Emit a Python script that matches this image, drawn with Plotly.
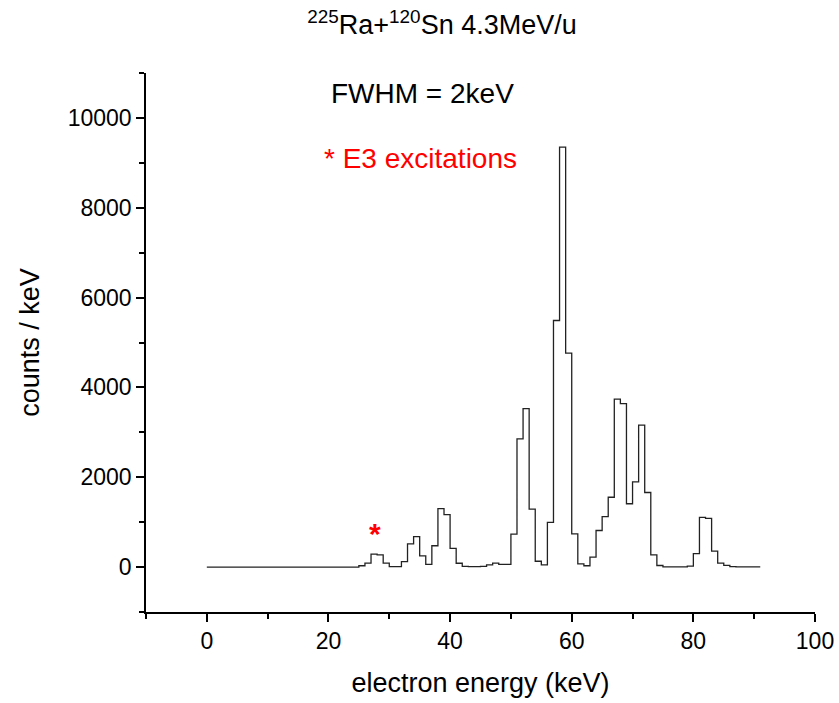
import plotly.graph_objects as go

# Histogram bins: lower edge of each 1 keV bin (keV)
bin_starts = list(range(0, 91))
bin_width = 1
# counts / keV per bin
counts = (
    [0] * 25 +
    [30, 90, 290, 270, 90, 10, 10, 120, 515, 680,            # 25-34
     250, 60, 475, 1300, 1170, 415, 85, 15, 10, 10,          # 35-44
     15, 50, 90, 60, 60, 735, 2855, 3530, 1290, 130,         # 45-54
     50, 995, 5490, 9350, 4765, 740, 70, 30, 220, 815,       # 55-64
     1125, 1555, 3740, 3640, 1410, 1895, 3160, 1660, 270, 35,# 65-74
     5, 5, 5, 5, 20, 300, 1105, 1085, 355, 88,               # 75-84
     38, 12, 5, 5, 5, 5]                                     # 85-90
)

x_ticks = [0, 20, 40, 60, 80, 100]
y_ticks = [0, 2000, 4000, 6000, 8000, 10000]
y_tick_labels = ["0", "2000", "4000", "6000", "8000", "10000"]

title_text = "<sup>225</sup>Ra+<sup>120</sup>Sn 4.3MeV/u"
fwhm_text = "FWHM = 2keV"
e3_text = "* E3 excitations"
e3_marker_pos = (27.6, 757)

edges = bin_starts + [bin_starts[-1] + bin_width]
yvals = counts + [counts[-1]]

FONT = "Arial, Liberation Sans, sans-serif"

fig = go.Figure()
fig.add_trace(go.Scatter(
    x=edges, y=yvals, mode="lines", line_shape="hv",
    line=dict(color="#222222", width=1.3), showlegend=False, hoverinfo="skip"
))

axis_common = dict(
    showline=True, linecolor="black", linewidth=1.5, mirror=False,
    ticks="outside", ticklen=8, tickwidth=1.5, tickcolor="black",
    showgrid=False, zeroline=False, automargin=False,
    tickfont=dict(family=FONT, size=23, color="black"),
)

fig.update_layout(
    width=839, height=703,
    margin=dict(l=146, r=24, t=73, b=91),
    paper_bgcolor="white", plot_bgcolor="white",
    font=dict(family=FONT, color="black"),
    title=dict(text=title_text, x=442 / 839, xref="container", xanchor="center",
               y=1 - 25 / 703, yref="container", yanchor="middle",
               font=dict(family=FONT, size=27, color="black")),
    xaxis=dict(range=[-10, 100], tickvals=x_ticks,
               minor=dict(dtick=10, tick0=0, ticks="outside", ticklen=5, tickwidth=1.5, tickcolor="black"),
               title=dict(text="electron energy (keV)", font=dict(family=FONT, size=27), standoff=20),
               **axis_common),
    yaxis=dict(range=[-1000, 11000], tickvals=y_ticks, ticktext=y_tick_labels,
               minor=dict(dtick=1000, tick0=0, ticks="outside", ticklen=5, tickwidth=1.5, tickcolor="black"),
               title=dict(text="counts / keV", font=dict(family=FONT, size=27), standoff=20),
               **axis_common),
    annotations=[
        dict(x=35.4, y=10535, xref="x", yref="y", text=fwhm_text, showarrow=False,
             font=dict(family=FONT, size=28, color="black"), xanchor="center", yanchor="middle"),
        dict(x=35.2, y=9090, xref="x", yref="y", text=e3_text, showarrow=False,
             font=dict(family=FONT, size=28, color="#ff0000"), xanchor="center", yanchor="middle"),
        dict(x=e3_marker_pos[0], y=e3_marker_pos[1], xref="x", yref="y", text="<b>*</b>", showarrow=False,
             font=dict(family=FONT, size=30, color="#ff0000"), xanchor="center", yanchor="middle"),
    ],
)

fig.write_html("out.html")
